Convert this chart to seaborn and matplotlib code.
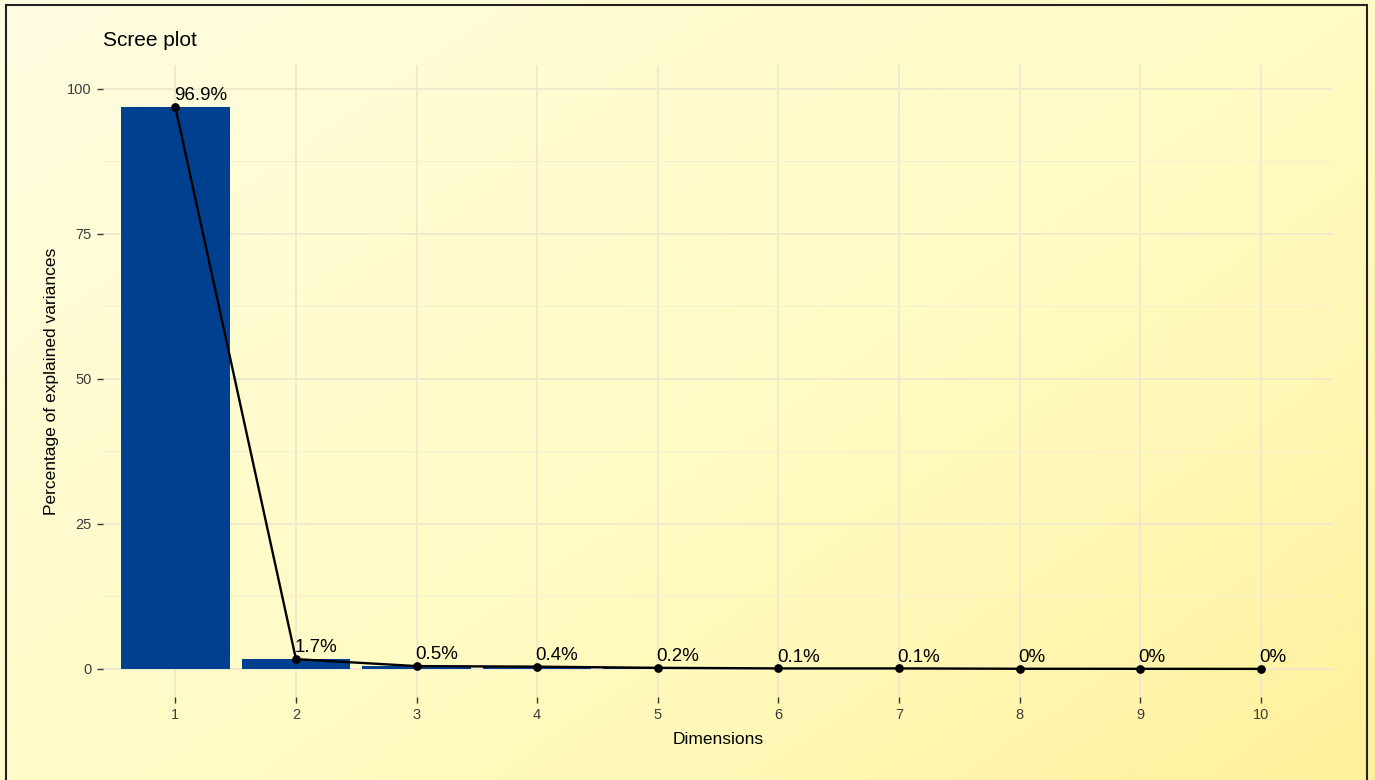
import numpy as np
import pandas as pd
import matplotlib
matplotlib.use("Agg")
import matplotlib.pyplot as plt
import seaborn as sns
from matplotlib.colors import LinearSegmentedColormap
from matplotlib.patches import Rectangle

dims = ["1", "2", "3", "4", "5", "6", "7", "8", "9", "10"]
variance = [96.9, 1.7, 0.5, 0.4, 0.2, 0.1, 0.1, 0.04, 0.03, 0.02]
yticks = [0, 25, 50, 75, 100]

df = pd.DataFrame({"dim": dims, "var": variance})
labels = [f"{round(v, 1):g}%" for v in variance]

sns.set_theme(style="white")
plt.rcParams["font.family"] = ["Liberation Sans", "DejaVu Sans"]

fig = plt.figure(figsize=(13.75, 7.8), dpi=100)

# gradient background over the whole figure
bg = fig.add_axes([0, 0, 1, 1], zorder=-10)
gx, gy = np.meshgrid(np.linspace(0, 1, 300), np.linspace(0, 1, 200))
grad = gx * 0.55 + gy * 0.45
cmap = LinearSegmentedColormap.from_list(
    "bg", [(0, "#fffde2"), (0.3, "#fffcd0"), (0.55, "#fffbc4"),
           (0.8, "#fff6b0"), (1, "#fff09a")])
bg.imshow(grad, cmap=cmap, aspect="auto", extent=[0, 1, 0, 1], origin="upper")
bg.add_patch(Rectangle((0.004, -0.02), 0.99, 1.014, fill=False, edgecolor="#222222",
                       linewidth=1.5, transform=bg.transAxes))
bg.set_axis_off()

ax = fig.add_axes([0.0749, 0.1064, 0.8946, 0.8103])
ax.patch.set_alpha(0)

sns.barplot(data=df, x="dim", y="var", color="#00418f", width=0.9,
            saturation=1, linewidth=0, ax=ax, zorder=2)
sns.pointplot(data=df, x="dim", y="var", color="black", markersize=5,
              linewidth=1.7, ax=ax, zorder=4)

for i, (v, lab) in enumerate(zip(variance, labels)):
    ax.annotate(lab, (i, v), xytext=(-1, 2), textcoords="offset points",
                ha="left", va="bottom", fontsize=13.5, color="black", zorder=5)

ax.set_xlim(-0.6, 9.6)
ax.set_ylim(-4.83, 104.14)
ax.set_yticks(yticks)
ax.set_yticks([12.5, 37.5, 62.5, 87.5], minor=True)
ax.grid(True, which="major", color="#f1e8cc", linewidth=1.3, zorder=0)
ax.grid(True, which="minor", axis="y", color="#f6eed2", linewidth=0.7, zorder=0)
ax.set_axisbelow(True)
for s in ax.spines.values():
    s.set_visible(False)

ax.tick_params(axis="both", which="major", length=4, width=1, color="#333333",
               labelsize=10.5, labelcolor="#3d3d3d", bottom=True, left=True, pad=4)
ax.tick_params(axis="both", which="minor", length=0)

ax.set_xlabel("Dimensions", fontsize=12.5, color="black", labelpad=7)
ax.set_ylabel("Percentage of explained variances", fontsize=12.5, color="black", labelpad=6)
ax.set_title("Scree plot", fontsize=15, loc="left", x=0.0, pad=14, color="black")

fig.savefig("out.png", dpi=100)
